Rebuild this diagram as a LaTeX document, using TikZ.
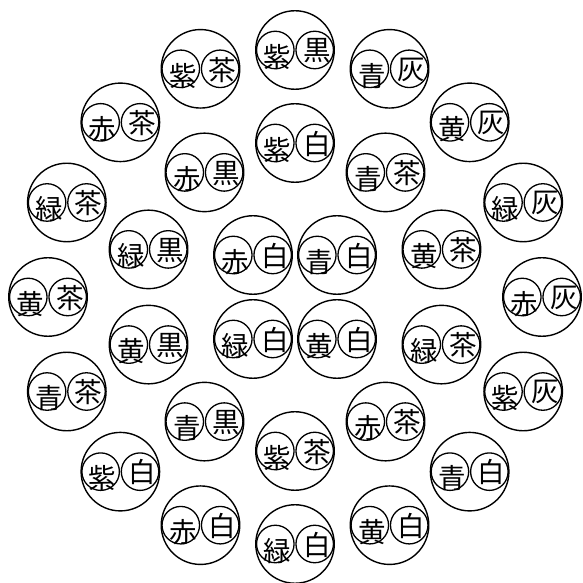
\documentclass[tikz,border=0pt]{standalone}
\usepackage{fontspec}
\newfontfamily\kanji{Noto Sans CJK JP}
\tikzset{
 bigc/.style={draw, circle, line width=1.4pt, minimum size=78.5pt, inner sep=0pt},
 smallc/.style={draw, circle, line width=1.3pt, minimum size=37.5pt, inner sep=0pt},
 kan/.style={font=\kanji\fontsize{27.5}{27.5}\selectfont, inner sep=0pt},
}
\newcommand\pairnode[5]{%
 \path (295,286) ++(#2:#3pt) node[bigc] (#1) {};
 \node[smallc] (#1-l) at ([xshift=-19.7pt]#1.center) {};
 \node[smallc] (#1-r) at ([xshift=19.7pt]#1.center) {};
 \node[kan] (#1-lt) at ([xshift=-17.6pt,yshift=-6.8pt]#1.center) {#4};
 \node[kan] (#1-rt) at ([xshift=21.8pt,yshift=-0.8pt]#1.center) {#5};
}
\begin{document}
\begin{tikzpicture}[x=1pt,y=1pt]
\useasboundingbox (0,0) rectangle (582,583);
% outer ring
\pairnode{o1}{90}{247}{紫}{黒}
\pairnode{o2}{67.5}{247}{青}{灰}
\pairnode{o3}{45}{247}{黄}{灰}
\pairnode{o4}{22.5}{247}{緑}{灰}
\pairnode{o5}{0}{247}{赤}{灰}
\pairnode{o6}{-22.5}{247}{紫}{灰}
\pairnode{o7}{-45}{247}{青}{白}
\pairnode{o8}{-67.5}{247}{黄}{白}
\pairnode{o9}{-90}{247}{緑}{白}
\pairnode{o10}{-112.5}{247}{赤}{白}
\pairnode{o11}{-135}{247}{紫}{白}
\pairnode{o12}{-157.5}{247}{青}{茶}
\pairnode{o13}{180}{247}{黄}{茶}
\pairnode{o14}{157.5}{247}{緑}{茶}
\pairnode{o15}{135}{247}{赤}{茶}
\pairnode{o16}{112.5}{247}{紫}{茶}
% middle ring
\pairnode{m1}{90}{154}{紫}{白}
\pairnode{m2}{54}{154}{青}{茶}
\pairnode{m3}{18}{154}{黄}{茶}
\pairnode{m4}{-18}{154}{緑}{茶}
\pairnode{m5}{-54}{154}{赤}{茶}
\pairnode{m6}{-90}{154}{紫}{茶}
\pairnode{m7}{-126}{154}{青}{黒}
\pairnode{m8}{-162}{154}{黄}{黒}
\pairnode{m9}{162}{154}{緑}{黒}
\pairnode{m10}{126}{154}{赤}{黒}
% inner four
\pairnode{c1}{135}{59.4}{赤}{白}
\pairnode{c2}{45}{59.4}{青}{白}
\pairnode{c3}{-135}{59.4}{緑}{白}
\pairnode{c4}{-45}{59.4}{黄}{白}
\end{tikzpicture}
\end{document}
